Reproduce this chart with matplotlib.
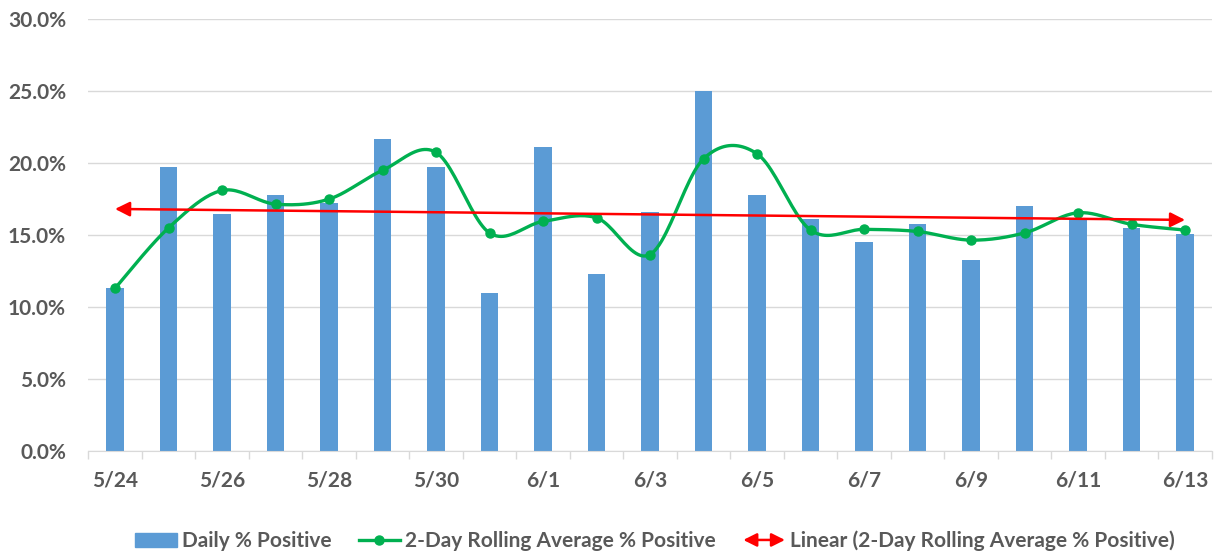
import matplotlib.pyplot as plt
import numpy as np
from matplotlib.patches import Patch, FancyArrowPatch
from matplotlib.lines import Line2D
from matplotlib.legend_handler import HandlerBase

dates = ['5/24', '5/25', '5/26', '5/27', '5/28', '5/29', '5/30', '5/31', '6/1', '6/2',
         '6/3', '6/4', '6/5', '6/6', '6/7', '6/8', '6/9', '6/10', '6/11', '6/12', '6/13']
daily_pct = [11.3, 19.7, 16.5, 17.8, 17.2, 21.7, 19.7, 11.0, 21.1, 12.3,
             16.6, 25.0, 17.8, 16.1, 14.5, 15.8, 13.3, 17.0, 16.2, 15.5, 15.1]
rolling_pct = [11.3, 15.5, 18.1, 17.15, 17.5, 19.5, 20.75, 15.15, 15.95, 16.2,
               13.65, 20.3, 20.65, 15.35, 15.4, 15.25, 14.65, 15.15, 16.55, 15.75, 15.35]

plt.rcParams['font.family'] = ['Lato', 'DejaVu Sans']
text_color = '#595959'
grid_color = '#d9d9d9'


def smooth_curve(xs, ys, n=24):
    # Catmull-Rom style smoothing, like Excel's "smoothed line"
    xs = np.asarray(xs, float)
    ys = np.asarray(ys, float)
    px = np.concatenate([[xs[0]], xs, [xs[-1]]])
    py = np.concatenate([[ys[0]], ys, [ys[-1]]])
    out_x, out_y = [], []
    t = np.linspace(0, 1, n)
    for i in range(1, len(px) - 2):
        p0x, p1x, p2x, p3x = px[i - 1], px[i], px[i + 1], px[i + 2]
        p0y, p1y, p2y, p3y = py[i - 1], py[i], py[i + 1], py[i + 2]
        c1x, c1y = p1x + (p2x - p0x) / 6, p1y + (p2y - p0y) / 6
        c2x, c2y = p2x - (p3x - p1x) / 6, p2y - (p3y - p1y) / 6
        bx = (1 - t) ** 3 * p1x + 3 * (1 - t) ** 2 * t * c1x + 3 * (1 - t) * t ** 2 * c2x + t ** 3 * p2x
        by = (1 - t) ** 3 * p1y + 3 * (1 - t) ** 2 * t * c1y + 3 * (1 - t) * t ** 2 * c2y + t ** 3 * p2y
        out_x.extend(bx)
        out_y.extend(by)
    return np.array(out_x), np.array(out_y)


class HandlerDoubleArrow(HandlerBase):
    def create_artists(self, legend, orig_handle, xdescent, ydescent,
                       width, height, fontsize, trans):
        y = height / 2 - ydescent
        arrow = FancyArrowPatch((-xdescent, y), (width - xdescent, y),
                                arrowstyle='<|-|>,head_length=0.4,head_width=0.2',
                                mutation_scale=20, color='#ff0000', lw=1.8,
                                shrinkA=0, shrinkB=0, transform=trans)
        return [arrow]


x = np.arange(len(dates))

fig = plt.figure(figsize=(12.14, 5.54), dpi=100)
ax = fig.add_axes([0.0727, 0.186, 0.9255, 0.7793])

ax.bar(x, daily_pct, width=0.33, color='#5b9bd5', zorder=2)

sx, sy = smooth_curve(x, rolling_pct)
ax.plot(sx, sy, color='#00b050', lw=2.4, zorder=3)
ax.plot(x, rolling_pct, 'o', color='#00b050', ms=6.5, zorder=4)

coef = np.polyfit(x, rolling_pct, 1)
y0, y1 = np.polyval(coef, [x[0], x[-1]])
ax.annotate('', xy=(x[-1], y1), xytext=(x[0], y0),
            arrowprops=dict(arrowstyle='<|-|>,head_length=0.4,head_width=0.2',
                            color='#ff0000', lw=1.8, mutation_scale=22,
                            shrinkA=0, shrinkB=0), zorder=5)

ax.set_xlim(-0.5, len(dates) - 0.5)
ax.set_ylim(0, 30)
ax.set_yticks(np.arange(0, 31, 5))
ax.set_yticklabels([f'{v:.1f}%' for v in np.arange(0, 31, 5)])
ax.set_xticks(x[::2])
ax.set_xticklabels(dates[::2])
ax.set_xticks(np.arange(-0.5, len(dates), 1), minor=True)

ax.tick_params(axis='y', length=0, pad=16, labelsize=15, labelcolor=text_color)
ax.tick_params(axis='x', which='major', length=0, pad=14, labelsize=15, labelcolor=text_color)
ax.tick_params(axis='x', which='minor', length=6, width=1, color=grid_color)
for lab in ax.get_xticklabels() + ax.get_yticklabels():
    lab.set_fontweight('bold')

for s in ['top', 'right', 'left']:
    ax.spines[s].set_visible(False)
ax.spines['bottom'].set_color(grid_color)
ax.yaxis.grid(True, color=grid_color, lw=1)
ax.set_axisbelow(True)

handles = [
    Patch(color='#5b9bd5'),
    Line2D([], [], color='#00b050', lw=2.4, marker='o', ms=6.5),
    'arrow',
]
labels = ['Daily % Positive', '2-Day Rolling Average % Positive',
          'Linear (2-Day Rolling Average % Positive)']
leg = fig.legend(handles, labels, loc='center', bbox_to_anchor=(0.5395, 1 - 541 / 554),
                 ncol=3, frameon=False, handlelength=2.0, handleheight=0.6,
                 handletextpad=0.25, columnspacing=1.3,
                 prop={'weight': 'bold', 'size': 15},
                 handler_map={str: HandlerDoubleArrow()})
for t in leg.get_texts():
    t.set_color(text_color)

fig.savefig('out.png', dpi=100)
